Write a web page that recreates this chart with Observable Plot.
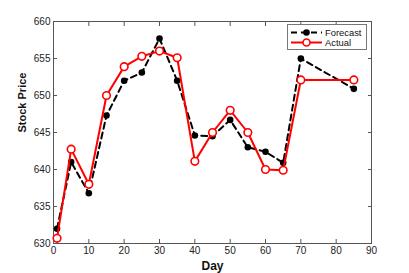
<!DOCTYPE html>
<html><head><meta charset="utf-8">
<script src="https://cdn.jsdelivr.net/npm/d3@7"></script>
<script src="https://cdn.jsdelivr.net/npm/@observablehq/plot@0.6"></script>
<style>
body{margin:0;background:#fff;font-family:"Liberation Sans",Arial,sans-serif;}
#wrap{position:relative;width:409px;height:273px;}
#legend{position:absolute;left:287px;top:24px;width:78px;height:24px;border:1px solid #777;background:#fff;font-size:10px;}
</style></head><body>
<div id="wrap"><div id="legend"></div></div>
<script>
const days = [1, 5, 10, 15, 20, 25, 30, 35, 40, 45, 50, 55, 60, 65, 70, 85];
const forecast = [632, 641, 636.8, 647.3, 652, 653.1, 657.7, 652, 644.6, 644.5, 646.7, 643, 642.4, 640.9, 655, 650.9];
const actual = [630.7, 642.75, 638, 650, 653.9, 655.3, 656, 655.1, 641.1, 645, 648, 645, 640, 639.9, 652.1, 652.1];
const xTicks = [0, 10, 20, 30, 40, 50, 60, 70, 80, 90];
const yTicks = [630, 635, 640, 645, 650, 655, 660];
const seriesNames = ["Forecast", "Actual"];

const fData = days.map((d, i) => ({day: d, value: forecast[i]}));
const aData = days.map((d, i) => ({day: d, value: actual[i]}));

const chart = Plot.plot({
  width: 409, height: 273,
  marginLeft: 53, marginRight: 38, marginTop: 21, marginBottom: 30,
  style: {fontFamily: "Liberation Sans, Arial, sans-serif", fontSize: "10px", color: "#222"},
  x: {domain: [0, 90]},
  y: {domain: [630, 660]},
  marks: [
    Plot.frame({stroke: "#555"}),
    Plot.axisX({ticks: xTicks, tickSize: -4, tickPadding: 7, tickFormat: d => d, label: null, stroke: "#555"}),
    Plot.axisX({anchor: "top", ticks: xTicks, tickSize: -4, tickFormat: () => "", label: null, stroke: "#555"}),
    Plot.axisY({ticks: yTicks, tickSize: -4, tickPadding: 7, tickFormat: d => d, label: null, stroke: "#555"}),
    Plot.axisY({anchor: "right", ticks: yTicks, tickSize: -4, tickFormat: () => "", label: null, stroke: "#555"}),
    Plot.line(fData, {x: "day", y: "value", stroke: "black", strokeWidth: 2, strokeDasharray: "6,4"}),
    Plot.dot(fData, {x: "day", y: "value", fill: "black", r: 3.3}),
    Plot.line(aData, {x: "day", y: "value", stroke: "#ff0000", strokeWidth: 2}),
    Plot.dot(aData, {x: "day", y: "value", stroke: "#ff0000", fill: "white", strokeWidth: 1.6, r: 3.8}),
    Plot.text(["Day"], {frameAnchor: "bottom", dy: 26, fontWeight: "bold", fontSize: 12, fill: "#111"}),
    Plot.text(["Stock Price"], {frameAnchor: "left", rotate: -90, dx: -31, fontWeight: "bold", fontSize: 11, fill: "#111"})
  ]
});
document.getElementById("wrap").prepend(chart);

// legend
const leg = d3.select("#legend").append("svg").attr("width", 78).attr("height", 24);
seriesNames.forEach((name, i) => {
  const y = 7.5 + i * 10;
  const g = leg.append("g");
  if (i === 0) {
    g.append("line").attr("x1", 3).attr("x2", 34).attr("y1", y).attr("y2", y)
      .attr("stroke", "black").attr("stroke-width", 2).attr("stroke-dasharray", "6,4");
    g.append("circle").attr("cx", 18.5).attr("cy", y).attr("r", 3.3).attr("fill", "black");
  } else {
    g.append("line").attr("x1", 3).attr("x2", 34).attr("y1", y).attr("y2", y)
      .attr("stroke", "#ff0000").attr("stroke-width", 2);
    g.append("circle").attr("cx", 18.5).attr("cy", y).attr("r", 3.5).attr("fill", "white")
      .attr("stroke", "#ff0000").attr("stroke-width", 1.6);
  }
  g.append("text").attr("x", 37).attr("y", y + 3.3).attr("font-size", 9.4)
    .attr("font-family", "Liberation Sans, Arial, sans-serif").attr("fill", "#111").text(name);
});
</script>
</body></html>
